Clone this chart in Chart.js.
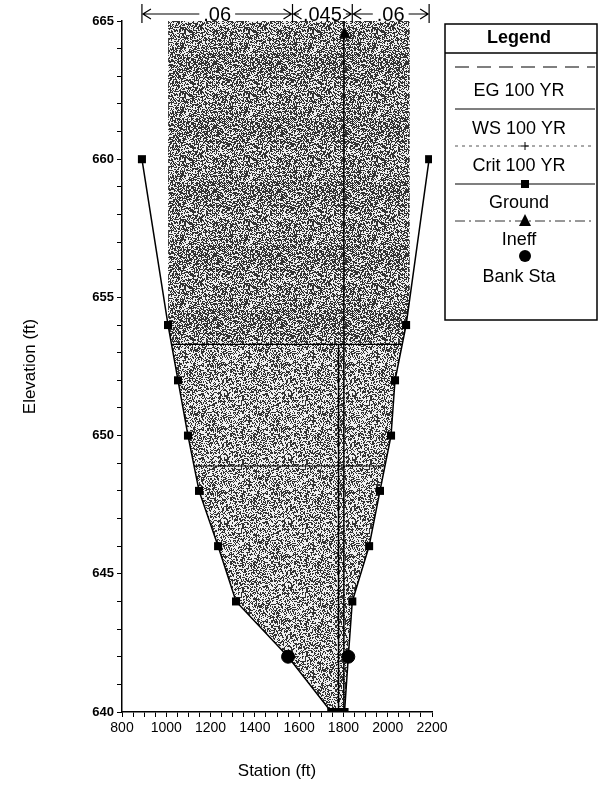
<!DOCTYPE html>
<html>
<head>
<meta charset="utf-8">
<script src="https://cdn.jsdelivr.net/npm/chart.js@4.4.1/dist/chart.umd.min.js"></script>
<style>
  html, body { margin: 0; padding: 0; background: #fff; }
  #wrap { width: 598px; height: 787px; position: relative; }
</style>
</head>
<body>
<div id="wrap"><canvas id="xs" width="598" height="787"></canvas></div>
<script>
// ground profile (station ft, elevation ft)
const groundSta  = [890, 1008, 1053, 1098, 1148, 1234, 1315, 1550, 1745, 1765, 1785, 1805, 1822, 1840, 1916, 1965, 2015, 2033, 2083, 2187];
const groundElev = [660, 654, 652, 650, 648, 646, 644, 642, 640, 640, 640, 640, 642, 644, 646, 648, 650, 652, 654, 660];

// shaded flow area, bottom edge (filled up to the top of the plot)
const flowSta  = [1008, 1053, 1098, 1148, 1234, 1315, 1550, 1745, 1805, 1822, 1840, 1916, 1965, 2015, 2033, 2083, 2100];
const flowElev = [654, 652, 650, 648, 646, 644, 642, 640, 640, 642, 644, 646, 648, 650, 652, 654, 655];

// lower (lighter) part of the flow area, below the EG line
const lowSta  = [1024, 1053, 1098, 1148, 1234, 1315, 1550, 1745, 1805, 1822, 1840, 1916, 1965, 2015, 2033, 2065];
const lowElev = [653.3, 652, 650, 648, 646, 644, 642, 640, 640, 642, 644, 646, 648, 650, 652, 653.3];

// water surface lines
const egSta = [1024, 2065];
const egElev = [653.3, 653.3];
const wsSta = [1125, 1988];
const wsElev = [648.9, 648.9];

// ineffective flow limits
const ineffSta  = [1802, 1802];
const ineffElev = [640, 665];
const ineffMarkSta = [1806];
const ineffMarkElev = [664.5];
const wallSta  = [1778, 1778];
const wallElev = [640, 653.3];

// bank stations
const bankSta  = [1550, 1822];
const bankElev = [642, 642];

// manning's n breaks along the top
const nBreakSta = [890, 1570, 1840, 2187];
const nValues = ['.06', '.045', '.06'];

const legendLabels = ['EG 100 YR', 'WS 100 YR', 'Crit 100 YR', 'Ground', 'Ineff', 'Bank Sta'];

const FONT = 'Liberation Sans, Arial, sans-serif';

const pts = (xs, ys) => xs.map((x, i) => ({ x: x, y: ys[i] }));

const canvas = document.getElementById('xs');
const ctx0 = canvas.getContext('2d');

// halftone-like grey texture for the flow area
function greyPattern(darkPct, seed) {
    const p = document.createElement('canvas');
    p.width = 64; p.height = 64;
    const g = p.getContext('2d');
    const img = g.createImageData(64, 64);
    let s = seed;
    for (let i = 0; i < 64 * 64; i++) {
        s = (s * 1103515245 + 12345) & 0x7fffffff;
        const v = ((s >> 16) % 100) < darkPct ? 50 : 238;
        img.data[i * 4] = v; img.data[i * 4 + 1] = v; img.data[i * 4 + 2] = v; img.data[i * 4 + 3] = 255;
    }
    g.putImageData(img, 0, 0);
    return ctx0.createPattern(p, 'repeat');
}

const topLabels = {
    id: 'topLabels',
    afterDraw(chart) {
        const { ctx, scales: { x } } = chart;
        const y0 = 14;
        ctx.save();
        ctx.strokeStyle = '#000';
        ctx.fillStyle = '#000';
        ctx.lineWidth = 1.2;
        ctx.font = '20px ' + FONT;
        ctx.textAlign = 'center';
        ctx.textBaseline = 'middle';
        const bx = nBreakSta.map(s => x.getPixelForValue(s));
        bx.forEach(px => {
            ctx.beginPath();
            ctx.moveTo(px, y0 - 10); ctx.lineTo(px, y0 + 9);
            ctx.stroke();
        });
        nValues.forEach((t, i) => {
            const x1 = bx[i], x2 = bx[i + 1];
            const cx = (x1 + x2) / 2;
            const w = ctx.measureText(t).width;
            ctx.fillText(t, cx, y0 + 1);
            ctx.beginPath();
            // arrow heads
            ctx.moveTo(x1 + 9, y0 - 5); ctx.lineTo(x1 + 1, y0); ctx.lineTo(x1 + 9, y0 + 5);
            ctx.moveTo(x2 - 9, y0 - 5); ctx.lineTo(x2 - 1, y0); ctx.lineTo(x2 - 9, y0 + 5);
            if (cx - w / 2 - 4 > x1 + 2) {
                ctx.moveTo(x1 + 1, y0); ctx.lineTo(cx - w / 2 - 4, y0);
                ctx.moveTo(cx + w / 2 + 4, y0); ctx.lineTo(x2 - 1, y0);
            }
            ctx.stroke();
        });
        ctx.restore();
    }
};

const boxLegend = {
    id: 'boxLegend',
    afterDraw(chart) {
        const ctx = chart.ctx;
        const L = 445, R = 597, T = 24, B = 320;
        const cx = (L + R) / 2 - 2;
        const sx1 = 455, sx2 = 595;
        const lineY = [67, 109, 146, 184, 221, 256];
        const textY = [91, 129, 166, 203, 240, 277];
        ctx.save();
        ctx.strokeStyle = '#000';
        ctx.fillStyle = '#000';
        ctx.lineWidth = 1.5;
        ctx.strokeRect(L, T, R - L, B - T);
        ctx.beginPath(); ctx.moveTo(L, 53); ctx.lineTo(R, 53); ctx.stroke();
        ctx.textAlign = 'center';
        ctx.textBaseline = 'middle';
        ctx.font = 'bold 18px ' + FONT;
        ctx.fillText('Legend', cx, 38);
        ctx.font = '18px ' + FONT;
        legendLabels.forEach((t, i) => ctx.fillText(t, cx, textY[i]));

        const hline = (y, dash, w, col) => {
            ctx.save();
            ctx.setLineDash(dash); ctx.lineWidth = w; ctx.strokeStyle = col;
            ctx.beginPath(); ctx.moveTo(sx1, y); ctx.lineTo(sx2, y); ctx.stroke();
            ctx.restore();
        };
        const mx = (sx1 + sx2) / 2;
        hline(lineY[0], [14, 8], 1.2, '#000');
        hline(lineY[1], [], 1.2, '#000');
        hline(lineY[2], [3, 4], 1, '#555');
        ctx.lineWidth = 1;
        ctx.beginPath(); ctx.moveTo(mx - 4, lineY[2]); ctx.lineTo(mx + 4, lineY[2]);
        ctx.moveTo(mx, lineY[2] - 4); ctx.lineTo(mx, lineY[2] + 4); ctx.stroke();
        hline(lineY[3], [], 1.2, '#000');
        ctx.fillRect(mx - 4, lineY[3] - 4, 8, 8);
        hline(lineY[4], [10, 4, 2, 4], 1, '#333');
        ctx.beginPath(); ctx.moveTo(mx, lineY[4] - 7); ctx.lineTo(mx + 6, lineY[4] + 5); ctx.lineTo(mx - 6, lineY[4] + 5); ctx.closePath(); ctx.fill();
        ctx.beginPath(); ctx.arc(mx, lineY[5], 6, 0, Math.PI * 2); ctx.fill();
        ctx.restore();
    }
};

new Chart(canvas, {
    type: 'scatter',
    data: {
        datasets: [
            {
                label: 'Bank Sta',
                data: pts(bankSta, bankElev),
                pointStyle: 'circle', pointRadius: 6.5,
                backgroundColor: '#000', borderColor: '#000', showLine: false
            },
            {
                label: 'Ineff',
                data: pts(ineffMarkSta, ineffMarkElev),
                pointStyle: 'triangle', pointRadius: 6,
                backgroundColor: '#000', borderColor: '#000', showLine: false, clip: false
            },
            {
                label: 'Ground',
                data: pts(groundSta, groundElev),
                showLine: true, borderColor: '#000', borderWidth: 1.5,
                pointStyle: 'rect', pointRadius: 5.7,
                backgroundColor: '#000', pointBorderWidth: 0
            },
            {
                label: 'EG 100 YR',
                data: pts(egSta, egElev),
                showLine: true, borderColor: '#000', borderWidth: 1.2, pointRadius: 0
            },
            {
                label: 'WS 100 YR',
                data: pts(wsSta, wsElev),
                showLine: true, borderColor: '#000', borderWidth: 1.2, pointRadius: 0
            },
            {
                label: 'ineff line',
                data: pts(ineffSta, ineffElev),
                showLine: true, borderColor: '#000', borderWidth: 1.5, pointRadius: 0
            },
            {
                label: 'wall',
                data: pts(wallSta, wallElev),
                showLine: true, borderColor: '#000', borderWidth: 1.5, pointRadius: 0
            },
            {
                label: 'flow area low',
                data: pts(lowSta, lowElev),
                showLine: true, borderWidth: 0, borderColor: 'rgba(0,0,0,0)', pointRadius: 0,
                fill: { value: 653.3 }, backgroundColor: greyPattern(42, 24680)
            },
            {
                label: 'flow area',
                data: pts(flowSta, flowElev),
                showLine: true, borderWidth: 0, borderColor: 'rgba(0,0,0,0)', pointRadius: 0,
                fill: 'end', backgroundColor: greyPattern(54, 987654)
            }
        ]
    },
    options: {
        responsive: false,
        animation: false,
        devicePixelRatio: 1,
        layout: { padding: { top: 21, right: 166, bottom: 0, left: 0 } },
        plugins: { legend: { display: false }, tooltip: { enabled: false } },
        scales: {
            x: {
                type: 'linear', min: 800, max: 2200,
                ticks: {
                    stepSize: 50, autoSkip: false, maxRotation: 0, color: '#000', padding: 3,
                    font: { family: FONT, size: 14 },
                    callback: v => (v % 200 === 0 ? String(v) : '')
                },
                grid: { drawOnChartArea: false, tickLength: 5, color: '#000', tickColor: '#000' },
                border: { color: '#000', width: 1.5 },
                title: { display: true, text: 'Station (ft)', color: '#000', font: { family: FONT, size: 17 }, padding: { top: 0, bottom: 5 } },
                afterFit: s => { s.height = 75; }
            },
            y: {
                type: 'linear', min: 640, max: 665,
                ticks: {
                    stepSize: 1, autoSkip: false, color: '#000', padding: 3,
                    font: { family: FONT, size: 13, weight: 'bold' },
                    callback: v => (v % 5 === 0 ? String(v) : '')
                },
                grid: { drawOnChartArea: false, tickLength: 5, color: '#000', tickColor: '#000' },
                border: { color: '#000', width: 1.5 },
                title: { display: true, text: 'Elevation (ft)', color: '#000', font: { family: FONT, size: 17 }, padding: { top: 20, bottom: 0 } },
                afterFit: s => { s.width = 122; }
            }
        }
    },
    plugins: [topLabels, boxLegend]
});
</script>
</body>
</html>
